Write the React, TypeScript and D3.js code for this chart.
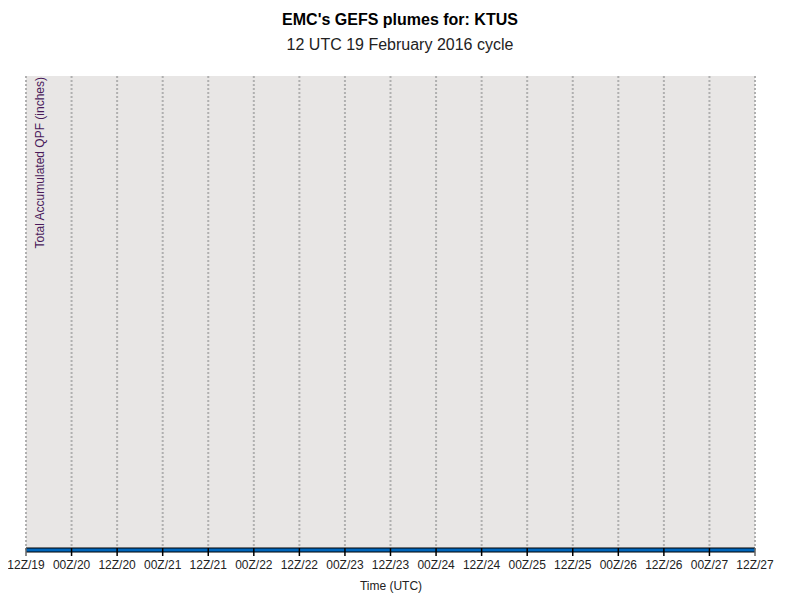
import React from "react";
import * as d3 from "d3";

const tickLabels = ["12Z/19","00Z/20","12Z/20","00Z/21","12Z/21","00Z/22","12Z/22","00Z/23","12Z/23","00Z/24","12Z/24","00Z/25","12Z/25","00Z/26","12Z/26","00Z/27","12Z/27"];
// forecast hours every 6h from 12Z/19 through 12Z/27
const forecastHours = [0,6,12,18,24,30,36,42,48,54,60,66,72,78,84,90,96,102,108,114,120,126,132,138,144,150,156,162,168,174,180,186,192];
// total accumulated QPF (inches) for ensemble mean – all zero
const meanQPF = [0,0,0,0,0,0,0,0,0,0,0,0,0,0,0,0,0,0,0,0,0,0,0,0,0,0,0,0,0,0,0,0,0];

const W = 786, H = 607;
const left = 18, right = 747, top = 68, bottom = 542;

export default function App() {
  const x = d3.scaleLinear().domain([0, 192]).range([left, right]);
  const y = d3.scaleLinear().domain([0, 1]).range([bottom, top]);
  const line = d3.line<number>().x((_, i) => x(forecastHours[i])).y(d => y(d));
  const pathD = line(meanQPF) || "";
  const tickHours = tickLabels.map((_, i) => i * 12);
  const font = "'Liberation Sans', Arial, sans-serif";
  return (
    <svg width={W - 16} height={H - 16} style={{ display: "block", fontFamily: font }}>
      <rect x={left} y={top} width={right - left} height={bottom - top} fill="#e8e6e5" />
      {tickHours.map((h, i) => (
        <line key={"g" + i} x1={x(h)} x2={x(h)} y1={top} y2={bottom} stroke="#b0b0b0" strokeWidth={2} strokeDasharray="2,2" />
      ))}
      <path d={pathD} fill="none" stroke="#000" strokeWidth={5} />
      <path d={pathD} fill="none" stroke="#0066bb" strokeWidth={3} />
      {tickHours.map((h, i) => (
        <g key={"t" + i}>
          <line x1={x(h)} x2={x(h)} y1={bottom - 2} y2={bottom + 6} stroke={i === 0 || i === tickHours.length - 1 ? "#666" : "#000"} strokeWidth={1.5} />
          <text x={x(h)} y={bottom + 19} textAnchor="middle" fontSize={12} fill="#222">{tickLabels[i]}</text>
        </g>
      ))}
      <text x={383} y={582} textAnchor="middle" fontSize={12} fill="#222">Time (UTC)</text>
      <text transform={`translate(36, ${top + 1}) rotate(-90)`} textAnchor="end" fontSize={12} fill="#4a1a5a">Total Accumulated QPF (inches)</text>
      <text x={392} y={17} textAnchor="middle" fontSize={16} fontWeight="bold" fill="#000">EMC's GEFS plumes for: KTUS</text>
      <text x={392} y={42} textAnchor="middle" fontSize={16} fill="#222">12 UTC 19 February 2016 cycle</text>
    </svg>
  );
}
